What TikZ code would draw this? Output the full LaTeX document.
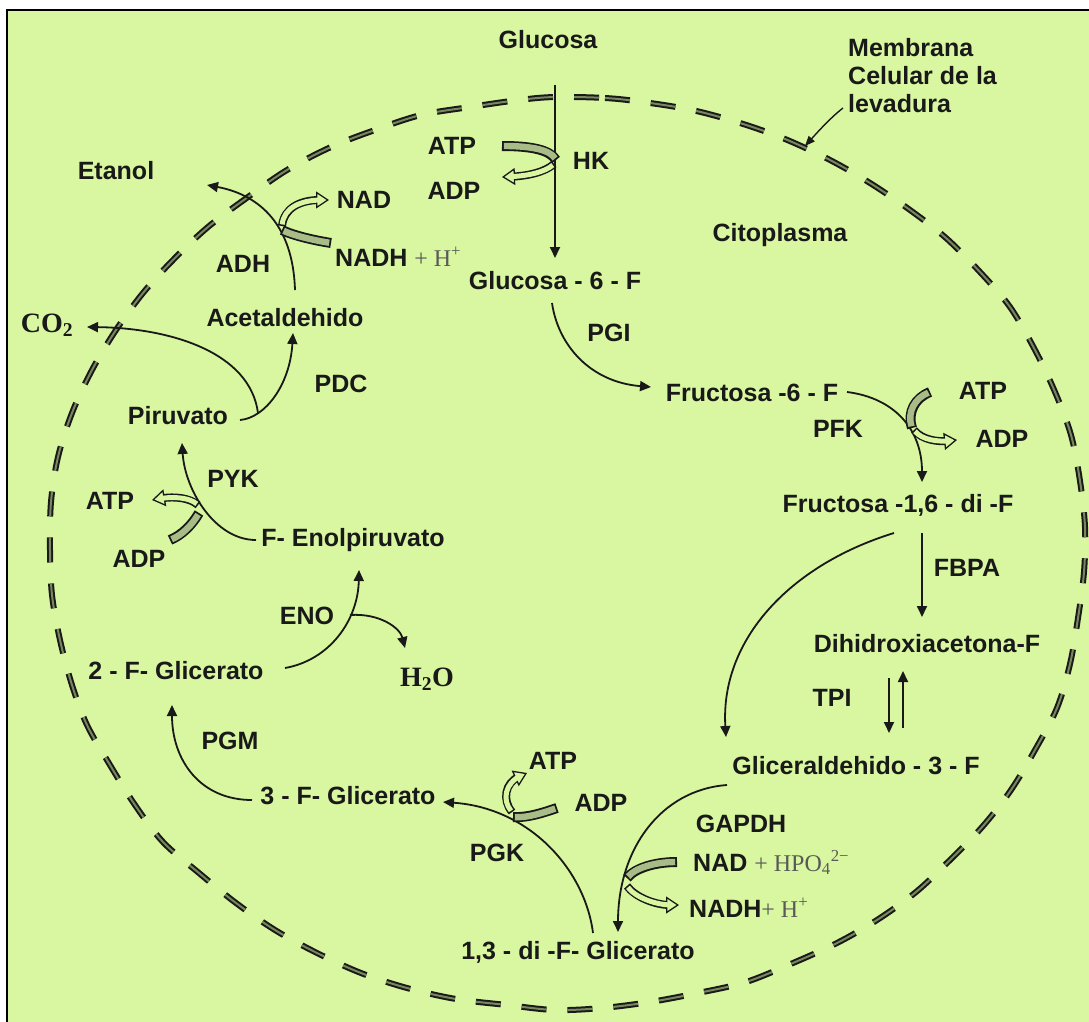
\documentclass[tikz,border=0pt]{standalone}
\usepackage{fontspec}
\setmainfont{Liberation Sans}
\newfontfamily\serifont{Liberation Serif}
\usetikzlibrary{arrows.meta,calc}
\definecolor{bgc}{RGB}{217,246,160}
\definecolor{bandc}{RGB}{168,188,136}
\definecolor{memc}{RGB}{120,135,95}
\definecolor{ink}{RGB}{25,25,25}
\newcommand\cofband[1]{\draw[line width=10pt,ink] #1;\draw[line width=6.4pt,bandc,shorten <=1.8pt,shorten >=1.8pt] #1;}
\newcommand\cofarrow[1]{\draw[line width=8pt,ink,shorten >=9pt] #1;
 \draw[line width=1pt,ink,-{Triangle[fill=bgc,length=13pt,width=17pt,line width=1.3pt]}] #1;
 \draw[line width=5pt,bgc,shorten <=1.6pt,shorten >=7pt] #1;}
\begin{document}
\begin{tikzpicture}[x=1pt,y=-1pt,
 lbl/.style={inner sep=0pt,text height=18pt,text depth=0pt,font=\bfseries\fontsize{25}{28}\selectfont,text=ink},
 srf/.style={inner sep=0pt,font=\serifont\bfseries\fontsize{28}{30}\selectfont,text=ink},
 arr/.style={line width=1.8pt,draw=ink,-{Triangle[length=11pt,width=10pt]}},
 membrane/.style={draw=ink,line width=2pt,double=memc,double distance=2pt,dash pattern=on 25pt off 21pt}]
\useasboundingbox (0,0) rectangle (1089,1022);
\fill[white] (0,0) rectangle (1089,1022);
\fill[bgc] (7,10) rectangle (1089,1022);
\draw[line width=2.5pt,black] (7,1022) -- (7,10) -- (1089,10);
% membrane
\draw[membrane] plot[smooth cycle,tension=0.55] coordinates {
(555,97) (605,98) (643,102) (692,110) (740,123) (785,139) (830,160) (870,183) (910,210) (946,238) (980,272) (1010,307) (1035,350) (1055,392) (1071,435) (1080,481) (1085,527) (1084,572) (1078,618) (1070,664) (1057,708) (1035,750) (1011,790) (983,826) (950,860) (916,892) (877,920) (837,943) (793,963) (746,982) (698,993) (650,1002) (602,1008) (555,1010) (507,1005) (456,999) (407,988) (361,973) (317,953) (275,930) (236,903) (199,873) (163,842) (135,805) (110,765) (87,725) (72,685) (60,640) (52,595) (50,550) (51,502) (58,457) (72,413) (92,370) (116,330) (143,293) (173,260) (208,227) (248,197) (287,170) (331,147) (375,130) (421,115) (470,107) (519,100)};
% labels
\node[lbl] (glu) at (548,40) {Glucosa};
\node[lbl,anchor=west] (mem1) at (848,48) {Membrana};
\node[lbl,anchor=west] (mem2) at (848,76) {Celular de la};
\node[lbl,anchor=west] (mem3) at (848,104) {levadura};
\node[lbl] (atp1) at (452,145) {ATP};
\node[lbl] (adp1) at (454,190) {ADP};
\node[lbl] (hk) at (591,160) {HK};
\node[lbl] (cito) at (780,232) {Citoplasma};
\node[lbl] (g6p) at (555,280) {Glucosa - 6 - F};
\node[lbl] (pgi) at (609,332) {PGI};
\node[lbl] (f6p) at (752,392) {Fructosa -6 - F};
\node[lbl] (atp2) at (983,390) {ATP};
\node[lbl] (adp2) at (1002,438) {ADP};
\node[lbl] (pfk) at (838,428) {PFK};
\node[lbl] (f16) at (898,503) {Fructosa -1,6 - di -F};
\node[lbl] (fbpa) at (967,567) {FBPA};
\node[lbl] (dhap) at (927,643) {Dihidroxiacetona-F};
\node[lbl] (tpi) at (832,697) {TPI};
\node[lbl] (gap) at (856,765) {Gliceraldehido - 3 - F};
\node[lbl] (gapdh) at (741,823) {GAPDH};
\node[lbl,anchor=west] (nad3) at (693,862) {NAD {\serifont\mdseries\fontsize{24}{28}\selectfont\color{black!65}+ HPO\textsubscript{4}\textsuperscript{2−}}};
\node[lbl,anchor=west] (nadh3) at (689,908) {NADH{\serifont\mdseries\fontsize{24}{28}\selectfont\color{black!65}+ H\textsuperscript{+}}};
\node[lbl] (bpg) at (578,950) {1,3 - di -F- Glicerato};
\node[lbl] (pgk) at (497,852) {PGK};
\node[lbl] (atp4) at (553,760) {ATP};
\node[lbl] (adp4) at (601,802) {ADP};
\node[lbl] (pg3) at (348,795) {3 - F- Glicerato};
\node[lbl] (pgm) at (230,740) {PGM};
\node[lbl] (pg2) at (176,670) {2 - F- Glicerato};
\node[lbl] (eno) at (307,615) {ENO};
\node[srf,anchor=base] (h2o) at (427,686) {H\textsubscript{2}O};
\node[lbl] (pep) at (353,537) {F- Enolpiruvato};
\node[lbl] (pyk) at (233,478) {PYK};
\node[lbl] (atp5) at (110,500) {ATP};
\node[lbl] (adp5) at (139,558) {ADP};
\node[lbl] (pyr) at (178,415) {Piruvato};
\node[lbl] (pdc) at (341,383) {PDC};
\node[srf,anchor=base] (co2) at (47,332) {CO\textsubscript{2}};
\node[lbl] (acet) at (285,317) {Acetaldehido};
\node[lbl] (adh) at (243,263) {ADH};
\node[lbl] (nad6) at (364,199) {NAD};
\node[lbl,anchor=west] (nadh6) at (335,257) {NADH {\serifont\mdseries\fontsize{24}{28}\selectfont\color{black!65}+ H\textsuperscript{+}}};
\node[lbl] (etanol) at (116,170) {Etanol};
\coordinate (memtip) at (805,146);
% main pathway
\draw[arr] ($(glu)+(7,45)$) -- ($(g6p)+(0,-22)$);
\draw[arr] ($(g6p)+(-3,23)$) .. controls (558,345) and (590,382) .. ($(f6p)+(-101,-5)$);
\draw[arr] ($(f6p)+(95,0)$) .. controls (895,398) and (922,430) .. ($(f16)+(24,-21)$);
\draw[arr] ($(f16)+(24,30)$) -- ($(dhap)+(-5,-26)$);
\draw[arr] ($(dhap)+(-38,35)$) -- ($(gap)+(33,-32)$);
\draw[arr] ($(gap)+(47,-37)$) -- ($(dhap)+(-24,28)$);
\draw[arr] ($(f16)+(-4,30)$) .. controls (790,565) and (720,640) .. ($(gap)+(-130,-28)$);
\draw[arr] ($(gap)+(-129,20)$) .. controls (660,790) and (618,850) .. ($(bpg)+(40,-18)$);
\draw[arr] ($(bpg)+(15,-17)$) .. controls (585,870) and (530,808) .. ($(pg3)+(95,7)$);
\draw[arr] ($(pg3)+(-96,5)$) .. controls (200,800) and (172,760) .. ($(pg2)+(-4,35)$);
\draw[arr] ($(pg2)+(109,-2)$) .. controls (330,660) and (358,620) .. ($(pep)+(6,33)$);
\draw[arr] ($(eno)+(43,0)$) .. controls (380,613) and (400,628) .. ($(h2o.base)+(-22,-38)$);
\draw[arr] ($(pep)+(-97,3)$) .. controls (215,540) and (185,490) .. ($(pyr)+(4,28)$);
\draw[arr] ($(pyr)+(62,5)$) .. controls (265,418) and (290,385) .. ($(acet)+(8,16)$);
\draw[arr] ($(pyr)+(80,-2)$) .. controls (250,352) and (170,328) .. ($(co2.base)+(40,-5)$);
\draw[arr] ($(acet)+(10,-27)$) .. controls (293,225) and (260,195) .. ($(etanol)+(91,15)$);
\draw[line width=1.4pt,ink,-{Triangle[length=10pt,width=8pt]}] ($(mem3.west)+(-5,4)$) .. controls (830,118) and (815,135) .. (memtip);
% cofactor arrows
\cofband{($(atp1)+(50,1)$) .. controls (532,146) and (550,150) .. (556,160)}
\cofarrow{(554,164) .. controls (545,172) and (528,176) .. ($(adp1)+(48,-13)$)}
\cofband{($(atp2)+(-53,2)$) .. controls (915,398) and (907,412) .. (912,428)}
\cofarrow{(914,430) .. controls (922,440) and (938,442) .. ($(adp2)+(-45,2)$)}
\cofband{($(nadh6.west)+(-4,-14)$) .. controls (312,240) and (292,235) .. (282,230)}
\cofarrow{(282,226) .. controls (284,208) and (300,200) .. ($(nad6)+(-35,1)$)}
\cofband{($(adp5)+(31,-18)$) .. controls (182,535) and (192,525) .. (199,513)}
\cofarrow{(198,505) .. controls (190,498) and (175,496) .. ($(atp5)+(42,0)$)}
\cofband{($(adp4)+(-44,6)$) .. controls (545,812) and (528,818) .. (513,817)}
\cofarrow{(512,812) .. controls (502,800) and (505,783) .. ($(atp4)+(-26,13)$)}
\cofband{($(nad3.west)+(-16,0)$) .. controls (655,862) and (635,868) .. (627,878)}
\cofarrow{(627,886) .. controls (635,897) and (655,905) .. ($(nadh3.west)+(-10,-3)$)}
\end{tikzpicture}
\end{document}
